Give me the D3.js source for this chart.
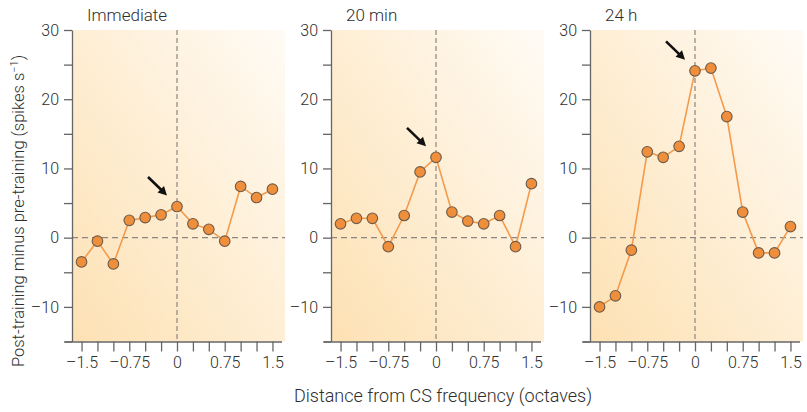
<!DOCTYPE html>
<html>
<head>
<meta charset="utf-8">
<script src="https://cdn.jsdelivr.net/npm/d3@7"></script>
<style>
  body { margin: 0; background: #fff; }
  svg text { font-family: Roboto, "Liberation Sans", sans-serif; font-weight: 300; fill: #2e2e2e; }
</style>
</head>
<body>
<div id="chart"></div>
<script>
// octave offsets from the CS frequency
const octaves = [-1.5, -1.25, -1, -0.75, -0.5, -0.25, 0, 0.25, 0.5, 0.75, 1, 1.25, 1.5];
const panelTitles = ['Immediate', '20 min', '24 h'];
const immediate = [-3.5, -0.5, -3.8, 2.5, 2.9, 3.3, 4.5, 2.0, 1.2, -0.5, 7.4, 5.8, 7.0];
const twentyMin = [2.0, 2.8, 2.8, -1.3, 3.2, 9.5, 11.6, 3.7, 2.4, 2.0, 3.2, -1.3, 7.8];
const twentyFourH = [-10.0, -8.4, -1.8, 12.4, 11.6, 13.2, 24.1, 24.5, 17.5, 3.7, -2.2, -2.2, 1.6];
const yTicks = [-15, -10, -5, 0, 5, 10, 15, 20, 25, 30];
const yLabels = [-10, 0, 10, 20, 30];
const xLabels = [-1.5, -0.75, 0, 0.75, 1.5];

const series = [immediate, twentyMin, twentyFourH];

const width = 807, height = 412;
const plotTop = 30, plotBottom = 341.5;
const panelWidth = 210;
const panelLefts = [72, 331, 590];

const svg = d3.select('#chart').append('svg')
  .attr('width', width)
  .attr('height', height);

const defs = svg.append('defs');
const grad = defs.append('linearGradient')
  .attr('id', 'bg')
  .attr('x1', 0).attr('y1', 1).attr('x2', 1).attr('y2', 0);
grad.append('stop').attr('offset', '0%').attr('stop-color', '#fde1b3');
grad.append('stop').attr('offset', '100%').attr('stop-color', '#fffbf5');

const y = d3.scaleLinear().domain([-15, 30]).range([plotBottom, plotTop]);

// formats a number with an en dash for the minus sign
const fmt = (d) => (d < 0 ? '\u2013' : '') + Math.abs(d);

series.forEach((values, i) => {
  const left = panelLefts[i];
  const x = d3.scaleLinear().domain([-1.65, 1.65]).range([left, left + panelWidth]);
  const g = svg.append('g');

  // shaded plot area
  g.append('rect')
    .attr('x', left)
    .attr('y', plotTop)
    .attr('width', panelWidth + 3)
    .attr('height', plotBottom - plotTop)
    .attr('fill', 'url(#bg)');

  // zero reference lines
  g.append('line')
    .attr('x1', left).attr('x2', left + panelWidth + 3)
    .attr('y1', y(0)).attr('y2', y(0))
    .attr('stroke', '#8c8580').attr('stroke-width', 1.2)
    .attr('stroke-dasharray', '6,4');
  g.append('line')
    .attr('x1', x(0)).attr('x2', x(0))
    .attr('y1', plotTop).attr('y2', plotBottom)
    .attr('stroke', '#8c8580').attr('stroke-width', 1.2)
    .attr('stroke-dasharray', '5,3');

  // y axis
  const yAxis = g.append('g')
    .attr('transform', `translate(${left},0)`)
    .call(d3.axisLeft(y)
      .tickValues(yTicks)
      .tickSize(8)
      .tickSizeOuter(0)
      .tickFormat((d) => (yLabels.includes(d) ? fmt(d) : '')));
  yAxis.selectAll('text').attr('font-size', 16).attr('dx', '-2');

  // x axis
  const xAxis = g.append('g')
    .attr('transform', `translate(0,${plotBottom})`)
    .call(d3.axisBottom(x)
      .tickValues(octaves)
      .tickSize(10)
      .tickSizeOuter(0)
      .tickFormat((d) => (xLabels.includes(d) ? fmt(d) : '')));
  xAxis.selectAll('text').attr('font-size', 16).attr('dy', '0.85em');
  xAxis.select('.domain').attr('d', `M${left - 7},0.5H${left + panelWidth}`);

  [yAxis, xAxis].forEach((a) => {
    a.selectAll('.domain, line').attr('stroke', '#666').attr('stroke-width', 1.3);
  });

  // panel title
  g.append('text')
    .attr('x', left + 15)
    .attr('y', 21)
    .attr('font-size', 17)
    .text(panelTitles[i]);

  // data line and markers
  const line = d3.line()
    .x((d, j) => x(octaves[j]))
    .y((d) => y(d));

  g.append('path')
    .datum(values)
    .attr('d', line)
    .attr('fill', 'none')
    .attr('stroke', '#f39a4c')
    .attr('stroke-width', 1.6);

  g.selectAll('circle')
    .data(values)
    .enter()
    .append('circle')
    .attr('cx', (d, j) => x(octaves[j]))
    .attr('cy', (d) => y(d))
    .attr('r', 5.3)
    .attr('fill', '#ef8f3c')
    .attr('stroke', '#6e5a48')
    .attr('stroke-width', 1.1);

  // arrow pointing to the CS frequency point
  const cx = x(0), cy = y(values[octaves.indexOf(0)]);
  const tipX = cx - 10, tipY = cy - 11;
  g.append('line')
    .attr('x1', cx - 29).attr('y1', cy - 29.5)
    .attr('x2', tipX - 4).attr('y2', tipY - 4)
    .attr('stroke', '#111').attr('stroke-width', 2.6);
  g.append('path')
    .attr('d', `M${tipX},${tipY}L${tipX - 9.5},${tipY - 3}L${tipX - 3},${tipY - 9.5}Z`)
    .attr('fill', '#111');
});

// axis titles
svg.append('text')
  .attr('transform', `translate(24,211) rotate(-90)`)
  .attr('text-anchor', 'middle')
  .attr('font-size', 16.5)
  .html('Post-training minus pre-training (spikes s<tspan dy="-6" font-size="11">\u22121</tspan><tspan dy="6">)</tspan>');

svg.append('text')
  .attr('x', 443)
  .attr('y', 402)
  .attr('text-anchor', 'middle')
  .attr('font-size', 18)
  .text('Distance from CS frequency (octaves)');
</script>
</body>
</html>
